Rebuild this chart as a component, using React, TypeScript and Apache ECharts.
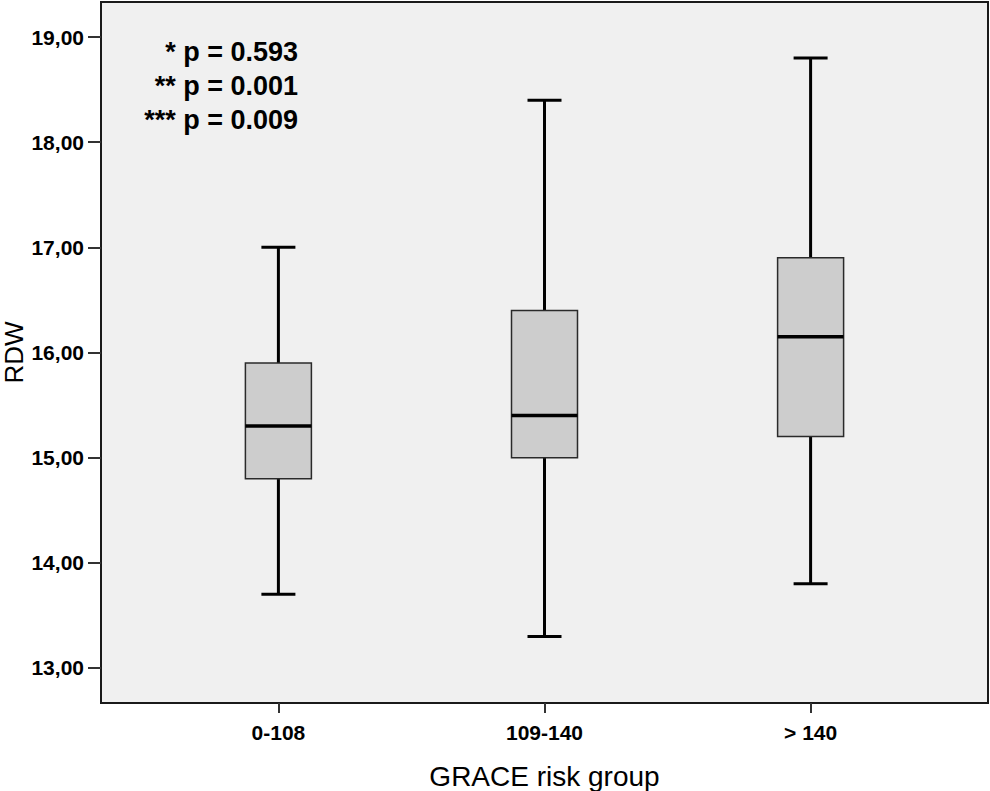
import * as echarts from "echarts";
import { useEffect, useRef } from "react";

const groups = ["0-108", "109-140", "> 140"];
const groupPositions = [1, 2, 3];
const lowerWhisker = [13.7, 13.3, 13.8];
const q1 = [14.8, 15.0, 15.2];
const median = [15.3, 15.4, 16.15];
const q3 = [15.9, 16.4, 16.9];
const upperWhisker = [17.0, 18.4, 18.8];
const yTicks = [13, 14, 15, 16, 17, 18, 19];
const pValueLines = ["* p = 0.593", "** p = 0.001", "*** p = 0.009"];

const FONT = "'Liberation Sans', Arial, Helvetica, sans-serif";
const BOX_WIDTH = 66;
const CAP_WIDTH = 34;

export default function App(): React.ReactElement {
  const containerRef = useRef<HTMLDivElement | null>(null);

  useEffect(() => {
    const target = containerRef.current;
    if (target === null) return;

    const chart = echarts.init(target, null, { renderer: "svg" });

    const boxData = groupPositions.map((x, i) => [
      x,
      lowerWhisker[i],
      q1[i],
      median[i],
      q3[i],
      upperWhisker[i],
    ]);

    chart.setOption({
      animation: false,
      grid: {
        left: 101,
        right: 2,
        top: 2,
        bottom: 88,
        outerBoundsMode: "none",
        containLabel: false,
        show: true,
        backgroundColor: "#f0f0f0",
        borderColor: "#1a1a1a",
        borderWidth: 2,
      },
      xAxis: {
        type: "value",
        min: 1 / 3,
        max: 11 / 3,
        name: "GRACE risk group",
        nameLocation: "middle",
        nameGap: 59,
        nameMoveOverlap: false,
        nameTextStyle: { fontFamily: FONT, fontSize: 28, color: "#000" },
        axisLine: { show: true, onZero: false, lineStyle: { color: "#1a1a1a", width: 2 } },
        axisTick: {
          show: true,
          length: 10,
          customValues: groupPositions,
          lineStyle: { color: "#333", width: 2 },
        },
        axisLabel: {
          customValues: groupPositions,
          margin: 19,
          fontFamily: FONT,
          fontSize: 21,
          fontWeight: "bold",
          color: "#000",
          formatter: (v: number) => groups[Math.round(v) - 1] ?? "",
        },
        splitLine: { show: false },
      },
      yAxis: {
        type: "value",
        min: 12.6667,
        max: 19.3333,
        name: "RDW",
        nameLocation: "middle",
        nameGap: 74,
        nameMoveOverlap: false,
        nameTextStyle: { fontFamily: FONT, fontSize: 26, color: "#000" },
        axisLine: { show: true, onZero: false, lineStyle: { color: "#1a1a1a", width: 2 } },
        axisTick: {
          show: true,
          length: 13,
          customValues: yTicks,
          lineStyle: { color: "#333", width: 2 },
        },
        axisLabel: {
          customValues: yTicks,
          margin: 17,
          fontFamily: FONT,
          fontSize: 21,
          fontWeight: "bold",
          color: "#000",
          formatter: (v: number) => v.toFixed(2).replace(".", ","),
        },
        splitLine: { show: false },
      },
      graphic: [
        {
          type: "text",
          x: 298,
          y: 86,
          style: {
            text: pValueLines.join("\n"),
            fontFamily: FONT,
            fontSize: 27,
            fontWeight: "bold",
            fill: "#000",
            align: "right",
            verticalAlign: "middle",
            lineHeight: 34,
          },
        },
      ],
      series: [
        {
          type: "custom",
          data: boxData,
          encode: { x: 0, y: [1, 2, 3, 4, 5] },
          renderItem: (_params: unknown, api: any) => {
            const x = api.value(0);
            const pMin = api.coord([x, api.value(1)]);
            const pQ1 = api.coord([x, api.value(2)]);
            const pMed = api.coord([x, api.value(3)]);
            const pQ3 = api.coord([x, api.value(4)]);
            const pMax = api.coord([x, api.value(5)]);
            const cx = pMin[0];
            const whisker = { stroke: "#000", lineWidth: 3 };
            return {
              type: "group",
              children: [
                {
                  type: "line",
                  shape: { x1: cx, y1: pQ3[1], x2: cx, y2: pMax[1] },
                  style: whisker,
                },
                {
                  type: "line",
                  shape: { x1: cx, y1: pQ1[1], x2: cx, y2: pMin[1] },
                  style: whisker,
                },
                {
                  type: "line",
                  shape: { x1: cx - CAP_WIDTH / 2, y1: pMax[1], x2: cx + CAP_WIDTH / 2, y2: pMax[1] },
                  style: whisker,
                },
                {
                  type: "line",
                  shape: { x1: cx - CAP_WIDTH / 2, y1: pMin[1], x2: cx + CAP_WIDTH / 2, y2: pMin[1] },
                  style: whisker,
                },
                {
                  type: "rect",
                  shape: {
                    x: cx - BOX_WIDTH / 2,
                    y: pQ3[1],
                    width: BOX_WIDTH,
                    height: pQ1[1] - pQ3[1],
                  },
                  style: { fill: "#cdcdcd", stroke: "#2a2a2a", lineWidth: 1.5 },
                },
                {
                  type: "line",
                  shape: { x1: cx - BOX_WIDTH / 2, y1: pMed[1], x2: cx + BOX_WIDTH / 2, y2: pMed[1] },
                  style: { stroke: "#000", lineWidth: 3.5 },
                },
              ],
            };
          },
        },
      ],
    });

    return () => {
      chart.dispose();
    };
  }, []);

  return (
    <div
      ref={containerRef}
      style={{ position: "fixed", left: 0, top: 0, width: 990, height: 791, background: "#fff" }}
    />
  );
}
